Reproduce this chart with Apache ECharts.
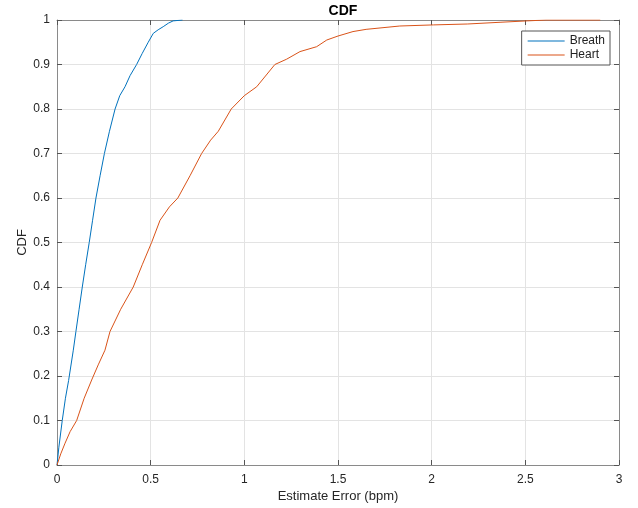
<!DOCTYPE html>
<html>
<head>
<meta charset="utf-8">
<script src="https://cdn.jsdelivr.net/npm/echarts@6/dist/echarts.min.js"></script>
<style>
  html, body { margin: 0; padding: 0; background: #fff; }
  #chart { width: 638px; height: 508px; }
</style>
</head>
<body>
<div id="chart"></div>
<script>
// values
const breathX = [0, 0.01, 0.028, 0.045, 0.062, 0.087, 0.101, 0.118, 0.135, 0.153, 0.172, 0.19, 0.208, 0.23, 0.253, 0.28, 0.31, 0.335, 0.363, 0.39, 0.425, 0.455, 0.487, 0.514, 0.54, 0.567, 0.595, 0.62, 0.67]
const breathY = [0, 0.04, 0.1, 0.15, 0.19, 0.258, 0.3, 0.35, 0.4, 0.45, 0.5, 0.55, 0.6, 0.65, 0.7, 0.75, 0.8, 0.83, 0.85, 0.875, 0.9, 0.925, 0.95, 0.97, 0.978, 0.985, 0.993, 0.998, 1]

const heartX = [0, 0.02, 0.043, 0.07, 0.105, 0.145, 0.185, 0.22, 0.256, 0.283, 0.34, 0.407, 0.455, 0.505, 0.55, 0.6, 0.645, 0.71, 0.772, 0.82, 0.861, 0.93, 1.0, 1.066, 1.163, 1.226, 1.297, 1.386, 1.44, 1.5, 1.58, 1.65, 1.83, 2.01, 2.19, 2.37, 2.51, 2.61, 2.9]
const heartY = [0, 0.025, 0.049, 0.075, 0.1, 0.15, 0.191, 0.225, 0.258, 0.3, 0.35, 0.4, 0.45, 0.5, 0.55, 0.58, 0.6, 0.65, 0.7, 0.73, 0.75, 0.8, 0.83, 0.85, 0.9, 0.912, 0.929, 0.94, 0.955, 0.964, 0.974, 0.979, 0.9865, 0.989, 0.991, 0.995, 0.998, 1, 1]

const seriesNames = ['Breath', 'Heart']
const seriesColors = ['#0072BD', '#D95319']

const pairs = (xs, ys) => xs.map((x, i) => [x, ys[i]])

const font = 'Liberation Sans, Arial, sans-serif'
const axisGray = '#8a8a8a'

function boxAxis(extra) {
    return Object.assign({
        type: 'value',
        axisLine: { show: true, onZero: false, lineStyle: { color: axisGray, width: 1 } },
        axisTick: { show: true, inside: true, length: 5, lineStyle: { color: '#555' } },
        splitLine: { show: false },
        axisLabel: { show: false }
    }, extra)
}

let chart = echarts.init(document.getElementById('chart'))

chart.setOption({
    animation: false,
    backgroundColor: '#fff',
    title: {
        text: 'CDF',
        left: 338,
        textAlign: 'center',
        top: -1,
        textStyle: { fontFamily: font, fontSize: 14, fontWeight: 'bold', color: '#000' }
    },
    legend: {
        data: seriesNames,
        orient: 'vertical',
        right: 28,
        top: 31,
        icon: 'rect',
        itemWidth: 37,
        itemHeight: 1,
        itemGap: 2,
        padding: [4, 5, 4, 6],
        borderColor: '#555',
        borderWidth: 1,
        backgroundColor: '#fff',
        textStyle: { fontFamily: font, fontSize: 12, color: '#222' }
    },
    grid: { left: 57, right: 19, top: 20, bottom: 43 },
    xAxis: [
        boxAxis({
            position: 'bottom',
            min: 0, max: 3, interval: 0.5,
            name: 'Estimate Error (bpm)',
            nameLocation: 'middle',
            nameGap: 25,
            nameMoveOverlap: false,
            nameTextStyle: { fontFamily: font, fontSize: 13, color: '#262626' },
            axisLabel: { show: true, margin: 9, fontFamily: font, fontSize: 12, color: '#262626' },
            splitLine: { show: true, lineStyle: { color: '#e3e3e3', width: 1 } }
        }),
        boxAxis({ position: 'top', min: 0, max: 3, interval: 0.5 })
    ],
    yAxis: [
        boxAxis({
            position: 'left',
            min: 0, max: 1, interval: 0.1,
            name: 'CDF',
            nameLocation: 'middle',
            nameGap: 28,
            nameMoveOverlap: false,
            nameTextStyle: { fontFamily: font, fontSize: 13, color: '#262626' },
            axisLabel: { show: true, margin: 7, fontFamily: font, fontSize: 12, color: '#262626' },
            splitLine: { show: true, lineStyle: { color: '#e3e3e3', width: 1 } }
        }),
        boxAxis({ position: 'right', min: 0, max: 1, interval: 0.1 })
    ],
    series: [
        {
            name: seriesNames[0],
            type: 'line',
            data: pairs(breathX, breathY),
            symbol: 'none',
            color: seriesColors[0],
            lineStyle: { width: 1, color: seriesColors[0] }
        },
        {
            name: seriesNames[1],
            type: 'line',
            data: pairs(heartX, heartY),
            symbol: 'none',
            color: seriesColors[1],
            lineStyle: { width: 1, color: seriesColors[1] }
        }
    ]
})
</script>
</body>
</html>
